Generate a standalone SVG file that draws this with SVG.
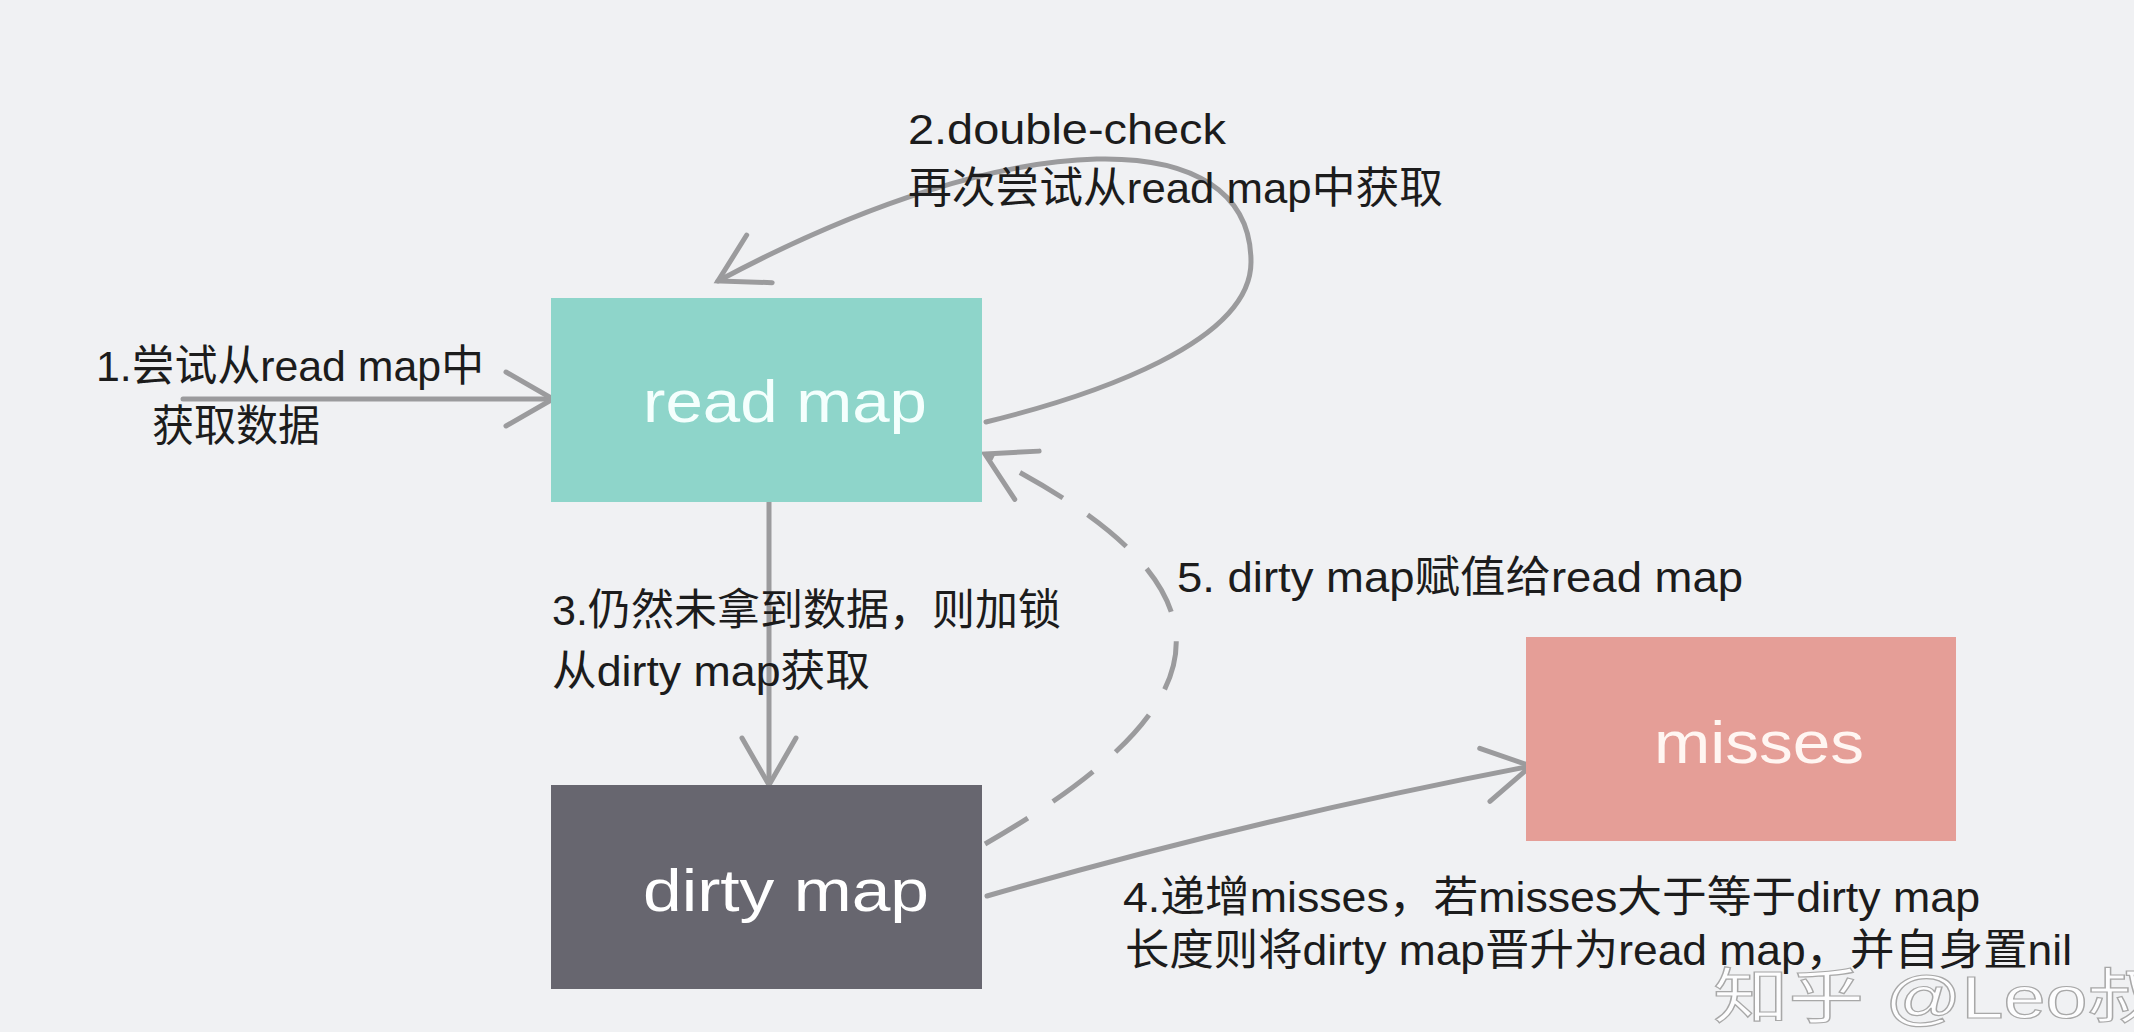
<svg xmlns="http://www.w3.org/2000/svg" width="2134" height="1032" viewBox="0 0 2134 1032">
  <style>
    .lbl { font-family: "Liberation Sans", "Noto Sans CJK SC", sans-serif; font-size: 43px; fill: #1c1c1c; }
    .box { font-family: "Liberation Sans", "Noto Sans CJK SC", sans-serif; font-size: 60px; }
    .conn { fill: none; stroke: #9b9b9d; stroke-width: 5; stroke-linecap: round; }
    .dash { stroke-dasharray: 50 30; stroke-linecap: butt; }
    .wm { font-family: "Liberation Sans", "Noto Sans CJK SC", sans-serif; font-size: 60px; fill: #ffffff; fill-opacity: 0.85; stroke: #a8a8a8; stroke-width: 1.2; }
  </style>
  <defs>
    <marker id="arr" markerUnits="userSpaceOnUse" orient="auto" overflow="visible" markerWidth="1" markerHeight="1" refX="0" refY="0">
      <path d="M -47 -27 L 0 0 L -47 27" fill="none" stroke="#9b9b9d" stroke-width="5" stroke-linecap="round" stroke-dasharray="none"/>
    </marker>
  </defs>
  <rect x="0" y="0" width="2134" height="1032" fill="#f0f1f3"/>

  <g id="connectors">
    <path id="c1" class="conn" d="M 183 399 L 553 399" marker-end="url(#arr)"/>
    <path id="c2" class="conn" d="M 986 422 C 1096 395 1251 342 1251 262 C 1251 122 1017 121 718 281" marker-end="url(#arr)"/>
    <path id="c3" class="conn" d="M 769 502 L 769 785" marker-end="url(#arr)"/>
    <path id="c4" class="conn" d="M 987 896 Q 1250 820 1531 766" marker-end="url(#arr)"/>
    <path id="c5" class="conn dash" d="M 985 844 C 1240 697 1240 583 985 454" marker-end="url(#arr)"/>
  </g>

  <g id="node-read-map">
    <rect x="551" y="298" width="431" height="204" fill="#8ed5ca"/>
    <text class="box" x="643" y="422" fill="#f4fffd" textLength="284" lengthAdjust="spacingAndGlyphs">read map</text>
  </g>
  <g id="node-dirty-map">
    <rect x="551" y="785" width="431" height="204" fill="#67666f"/>
    <text class="box" x="643" y="911" fill="#ffffff" textLength="286" lengthAdjust="spacingAndGlyphs">dirty map</text>
  </g>
  <g id="node-misses">
    <rect x="1526" y="637" width="430" height="204" fill="#e59e97"/>
    <text class="box" x="1654" y="763" fill="#fff6f2" textLength="210" lengthAdjust="spacingAndGlyphs">misses</text>
  </g>

  <g id="labels">
    <text class="lbl" x="96" y="381" textLength="388" lengthAdjust="spacingAndGlyphs">1.尝试从read map中</text>
    <text class="lbl" x="152" y="441" textLength="168" lengthAdjust="spacingAndGlyphs">获取数据</text>
    <text class="lbl" x="908" y="144" textLength="318" lengthAdjust="spacingAndGlyphs">2.double-check</text>
    <text class="lbl" x="908" y="203" textLength="535" lengthAdjust="spacingAndGlyphs">再次尝试从read map中获取</text>
    <text class="lbl" x="552" y="625" textLength="509" lengthAdjust="spacingAndGlyphs">3.仍然未拿到数据，则加锁</text>
    <text class="lbl" x="552" y="686" textLength="318" lengthAdjust="spacingAndGlyphs">从dirty map获取</text>
    <text class="lbl" x="1177" y="592" textLength="566" lengthAdjust="spacingAndGlyphs">5. dirty map赋值给read map</text>
    <text class="lbl" x="1123" y="912" textLength="857" lengthAdjust="spacingAndGlyphs">4.递增misses，若misses大于等于dirty map</text>
    <text class="lbl" x="1125" y="965" textLength="947" lengthAdjust="spacingAndGlyphs">长度则将dirty map晋升为read map，并自身置nil</text>
  </g>

  <text class="wm" x="1713" y="1018" textLength="450" lengthAdjust="spacingAndGlyphs">知乎 @Leo叔</text>
</svg>
